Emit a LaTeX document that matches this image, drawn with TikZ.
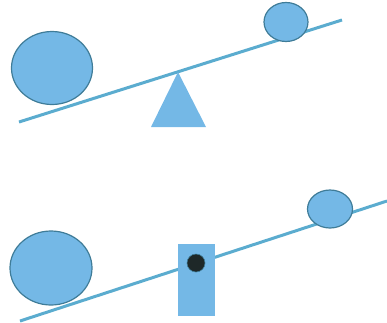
\documentclass[tikz,border=0pt]{standalone}
\usepackage{xcolor}
\usepackage{tikz}
\usetikzlibrary{shapes.geometric,calc}

\definecolor{ballblue}{HTML}{74B8E6}
\definecolor{ballrim}{HTML}{3F7C98}
\definecolor{beamblue}{HTML}{5BACCF}
\definecolor{hingedark}{HTML}{1E2828}

\tikzset{
    ball/.style={ellipse, draw=ballrim, fill=ballblue, line width=1.2pt, inner sep=0pt},
    beam/.style={beamblue, line width=3pt},
    support/.style={fill=ballblue, draw=none}
}

\begin{document}
\begin{tikzpicture}[x=1pt, y=-1pt]
\useasboundingbox (0,0) rectangle (387,322);

% Seesaw on a triangle
\draw[beam] (19,122) -- (342,20);
\path[support] (178,72) -- (206,127) -- (151,127) -- cycle;
\node[ball, minimum width=81pt, minimum height=73pt] (bigA) at (52,68) {};
\node[ball, minimum width=44pt, minimum height=39pt] (smallA) at (286,22) {};

% Seesaw on a post with a hinge
\draw[beam] (20,321) -- (387,201);
\path[support] (178,244) rectangle (215,316);
\node[ball, minimum width=82pt, minimum height=74pt] (bigB) at (51,268) {};
\node[ball, minimum width=45pt, minimum height=38pt] (smallB) at (330,209) {};
\node[circle, fill=hingedark, draw=ballrim, line width=0.6pt, minimum size=18pt, inner sep=0pt] (hinge) at (196,263) {};
\end{tikzpicture}
\end{document}
